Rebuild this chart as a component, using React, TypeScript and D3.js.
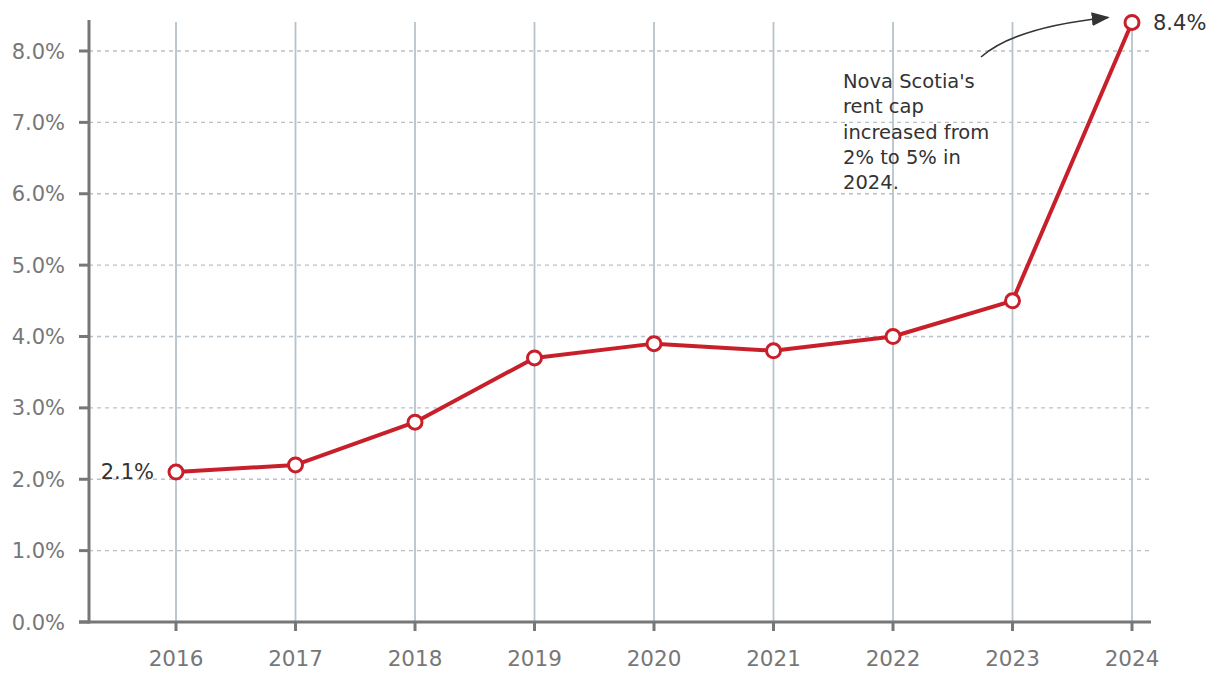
import React from "react";
import * as d3 from "d3";

const years = [2016, 2017, 2018, 2019, 2020, 2021, 2022, 2023, 2024];
const values = [2.1, 2.2, 2.8, 3.7, 3.9, 3.8, 4.0, 4.5, 8.4];
const yTicks = [0, 1, 2, 3, 4, 5, 6, 7, 8];
const annotationLines = ["Nova Scotia's", "rent cap", "increased from", "2% to 5% in", "2024."];

const W = 1220;
const H = 682;
const FONT = "'DejaVu Sans', 'Open Sans', sans-serif";

export default function App() {
  const x = d3.scalePoint<number>().domain(years).range([176, 1132]);
  const y = d3.scaleLinear().domain([0, 8]).range([622, 51]);
  const line = d3
    .line<number>()
    .x((_, i) => x(years[i])!)
    .y((d) => y(d));
  const red = "#c8202a";
  const axisCol = "#777777";
  const gridCol = "#b7c2ca";
  const last = values.length - 1;
  const lx = x(years[last])!;
  const ly = y(values[last]);
  const arrowPath = `M981,57 Q1015,27 ${lx - 24},${ly - 5}`;

  return (
    <svg width={W} height={H} style={{ display: "block", position: "absolute", left: 0, top: 0 }}>
      <defs>
        <marker id="ah" viewBox="0 0 10 10" refX="9" refY="5" markerWidth="18" markerHeight="14" orient="auto" markerUnits="userSpaceOnUse" preserveAspectRatio="none">
          <path d="M0,0 L10,5 L0,10 z" fill="#333" />
        </marker>
      </defs>
      {yTicks.filter((t) => t > 0).map((t) => (
        <line key={"h" + t} x1={89} x2={1150} y1={y(t)} y2={y(t)} stroke={gridCol} strokeWidth={1.3} strokeDasharray="4,4" />
      ))}
      {years.map((yr) => (
        <line key={"v" + yr} x1={x(yr)} x2={x(yr)} y1={22} y2={622} stroke={gridCol} strokeWidth={1.8} />
      ))}
      <line x1={89} x2={89} y1={20} y2={623.5} stroke={axisCol} strokeWidth={3} />
      {yTicks.map((t) => (
        <g key={"yt" + t}>
          <line x1={79} x2={89} y1={y(t)} y2={y(t)} stroke={axisCol} strokeWidth={3} />
          <text x={65} y={y(t)} dy="0.36em" textAnchor="end" fontFamily={FONT} fontSize={21} fill={axisCol}>
            {t.toFixed(1)}%
          </text>
        </g>
      ))}
      <line x1={79} x2={1151} y1={622} y2={622} stroke={axisCol} strokeWidth={3} />
      {years.map((yr) => (
        <g key={"xt" + yr}>
          <line x1={x(yr)} x2={x(yr)} y1={622} y2={631} stroke={axisCol} strokeWidth={3} />
          <text x={x(yr)} y={666} textAnchor="middle" fontFamily={FONT} fontSize={21.5} fill={axisCol}>
            {yr}
          </text>
        </g>
      ))}
      <path d={line(values) || ""} fill="none" stroke={red} strokeWidth={4} strokeLinejoin="round" />
      {values.map((v, i) => (
        <circle key={"c" + i} cx={x(years[i])} cy={y(v)} r={7} fill="#fff" stroke={red} strokeWidth={3} />
      ))}
      <text x={154} y={y(values[0]) - 1} dy="0.36em" textAnchor="end" fontFamily={FONT} fontSize={21} fill="#333">
        {values[0].toFixed(1)}%
      </text>
      <text x={lx + 21} y={ly} dy="0.36em" textAnchor="start" fontFamily={FONT} fontSize={21} fill="#333">
        {values[last].toFixed(1)}%
      </text>
      {annotationLines.map((l, i) => (
        <text key={"a" + i} x={843} y={88 + i * 25.3} fontFamily={FONT} fontSize={19.5} fill="#333">
          {l}
        </text>
      ))}
      <path d={arrowPath} fill="none" stroke="#333" strokeWidth={1.6} markerEnd="url(#ah)" />
    </svg>
  );
}
